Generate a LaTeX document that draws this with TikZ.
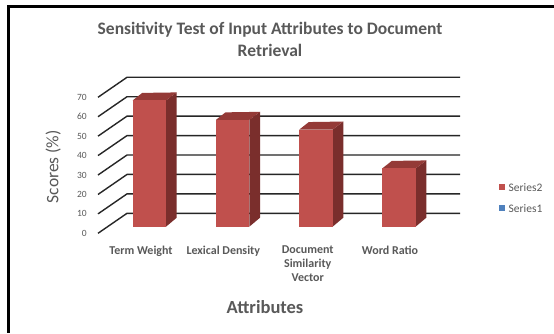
\documentclass[tikz,border=0pt]{standalone}
\usepackage{fontspec}
\setmainfont{Carlito}
\definecolor{txt}{HTML}{595959}
\definecolor{barfront}{HTML}{C0504D}
\definecolor{barside}{HTML}{7A2E2C}
\definecolor{bartop}{HTML}{943A37}
\definecolor{s1}{HTML}{4F81BD}
\begin{document}
\begin{tikzpicture}[x=1pt,y=-1pt,
  grid/.style={line width=1.4pt,draw=black!85},
  frame/.style={line width=2.8pt,draw=black},
  ticklab/.style={anchor=east,text=txt,font=\fontsize{9.5}{10}\selectfont,inner sep=0pt},
  catlab/.style={anchor=north,text=txt,font=\fontsize{12}{14}\selectfont\bfseries,align=center,inner sep=0pt},
  legtxt/.style={anchor=west,text=txt,font=\fontsize{11.5}{12}\selectfont,inner sep=0pt},
  legbox/.style={minimum size=6pt,inner sep=0pt},
]
\useasboundingbox (0,0) rectangle (554,333);
\fill[white] (0,0) rectangle (554,333);
% frame (only top and left edges visible)
\coordinate (ftr) at (554,6.7);
\coordinate (ftl) at (8.8,6.7);
\coordinate (fbl) at (8.8,333);
\draw[frame] (ftr) -- (ftl) -- (fbl);
% title
\node[text=txt,font=\fontsize{17.5}{22}\selectfont\bfseries,align=center] (title) at (270,39) {Sensitivity Test of Input Attributes to Document\\Retrieval};
% grid
\foreach \v in {0,10,...,70}{
  \coordinate (f\v) at (98,{233.3-1.943*\v});
  \coordinate (b\v) at (127,{213.3-1.943*\v});
  \coordinate (e\v) at (460,{213.3-1.943*\v});
  \draw[grid] (f\v) -- (b\v) -- (e\v);
  \node[ticklab] (t\v) at (87,{233.3-1.943*\v}) {\v};
}
% bars
\foreach \x/\val/\n in {132.7/65/tw,216/55/ld,299.3/50/ds,382.3/30/wr}{
  \coordinate (\n bl) at (\x,226.7);
  \coordinate (\n br) at (\x+33.3,226.7);
  \coordinate (\n tl) at (\x,{226.7-1.943*\val});
  \coordinate (\n tr) at (\x+33.3,{226.7-1.943*\val});
  \fill[barside] (\n br) -- ++(10.7,-9) -- ([shift={(10.7,-8)}]\n tr) -- (\n tr) -- cycle;
  \fill[bartop] (\n tl) -- ++(9.5,-7.5) -- ([shift={(10.7,-8)}]\n tr) -- (\n tr) -- cycle;
  \fill[barfront] (\n bl) rectangle (\n tr);
}
% category labels
\node[catlab] (c1) at (141,245.5) {Term Weight};
\node[catlab] (c2) at (223.3,245.5) {Lexical Density};
\node[catlab] (c3) at (307.7,245.5) {Document\\Similarity\\Vector};
\node[catlab] (c4) at (390,245.5) {Word Ratio};
% axis titles
\node[text=txt,font=\fontsize{17.5}{19}\selectfont,rotate=90] (ytitle) at (53.3,166.7) {Scores (\%)};
\node[text=txt,font=\fontsize{18.5}{20}\selectfont\bfseries] (xtitle) at (265,306.7) {Attributes};
% legend
\node[legbox,fill=barfront] (lb2) at (502.3,187.3) {};
\node[legtxt] (lt2) at (508.5,187.3) {Series2};
\node[legbox,fill=s1] (lb1) at (502.3,208.3) {};
\node[legtxt] (lt1) at (508.5,208.3) {Series1};
\end{tikzpicture}
\end{document}
